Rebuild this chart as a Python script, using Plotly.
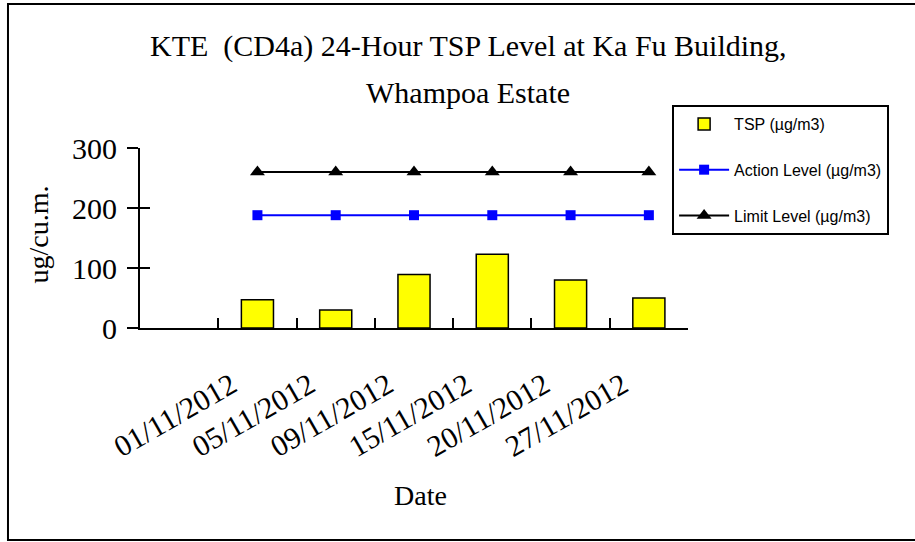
import plotly.graph_objects as go

# ---- data ----
dates = ["01/11/2012", "05/11/2012", "09/11/2012", "15/11/2012", "20/11/2012", "27/11/2012"]
categories = [" "] + dates
tsp = [47, 30, 89, 123, 80, 50]
action_level = [188, 188, 188, 188, 188, 188]
limit_level = [260, 260, 260, 260, 260, 260]
y_ticks = [0, 100, 200, 300]

SERIF = "Liberation Serif, Times New Roman, serif"
SANS = "Liberation Sans, Arial, sans-serif"

fig = go.Figure()
fig.add_trace(go.Bar(
    x=dates, y=tsp, name="TSP (µg/m3)", width=0.41,
    marker=dict(color="#FFFF00", line=dict(color="black", width=1.5)),
    legendgroup="a",
))
fig.add_trace(go.Scatter(
    x=dates, y=action_level, name="Action Level (µg/m3)", mode="lines+markers",
    line=dict(color="#0000FF", width=2),
    marker=dict(symbol="square", size=10, color="#0000FF"),
    legendgroup="b",
))
fig.add_trace(go.Scatter(
    x=dates, y=limit_level, name="Limit Level (µg/m3)", mode="lines+markers",
    line=dict(color="black", width=2),
    marker=dict(symbol="triangle-up", size=13, color="black"),
    legendgroup="c",
))
# invisible trace on overlay axis to render inner half of y ticks
fig.add_trace(go.Scatter(x=[categories[0]], y=[0], yaxis="y2", mode="markers",
                         marker=dict(opacity=0), showlegend=False, hoverinfo="skip"))

fig.update_layout(
    width=915, height=542,
    margin=dict(l=140, r=227, t=148, b=214),
    paper_bgcolor="white", plot_bgcolor="white",
    font=dict(family=SERIF, color="black"),
    showlegend=True,
    legend=dict(
        x=0.971, y=1.239, xanchor="left", yanchor="top",
        bgcolor="white", bordercolor="black", borderwidth=2,
        font=dict(family=SANS, size=16, color="black"),
        itemwidth=50, tracegroupgap=22, traceorder="grouped",
    ),
    xaxis=dict(
        type="category", categoryorder="array", categoryarray=categories,
        range=[-0.5, 6.5], showline=True, linecolor="black", linewidth=2,
        ticks="inside", ticklen=10, tickwidth=2, tickcolor="black",
        tickson="boundaries", tickangle=-30,
        tickfont=dict(family=SERIF, size=30),
        ticklabelstandoff=26, ticklabelshift=-26,
        showgrid=False, zeroline=False,
    ),
    yaxis=dict(
        range=[0, 300], tickvals=y_ticks, showline=True, linecolor="black", linewidth=2,
        ticks="outside", ticklen=11, tickwidth=2, tickcolor="black",
        tickfont=dict(family=SERIF, size=30),
        ticklabelstandoff=4,
        showgrid=False, zeroline=False,
    ),
    yaxis2=dict(
        range=[0, 300], tickvals=y_ticks, overlaying="y", side="left",
        ticks="inside", ticklen=10, tickwidth=2, tickcolor="black",
        showticklabels=False, showline=False, showgrid=False, zeroline=False,
    ),
    bargap=0.59,
)

ann = dict(xref="paper", yref="paper", showarrow=False, xanchor="center", yanchor="middle")
fig.add_annotation(text="KTE  (CD4a) 24-Hour TSP Level at Ka Fu Building,", x=0.599, y=1.567,
                   font=dict(family=SERIF, size=30), **ann)
fig.add_annotation(text="Whampoa Estate", x=0.599, y=1.311,
                   font=dict(family=SERIF, size=30), **ann)
fig.add_annotation(text="ug/cu.m.", textangle=-90, x=-0.186, y=0.52,
                   font=dict(family=SERIF, size=28), **ann)
fig.add_annotation(text="Date", x=0.511, y=-0.928,
                   font=dict(family=SERIF, size=28), **ann)

fig.add_shape(type="rect", xref="paper", yref="paper",
              x0=-0.2409, x1=1.45, y0=-1.178, y1=1.8,
              line=dict(color="black", width=2), layer="below")

fig.write_html("out.html", config={"displayModeBar": False},
               post_script="document.body.style.margin='0';document.body.style.overflow='hidden';")
